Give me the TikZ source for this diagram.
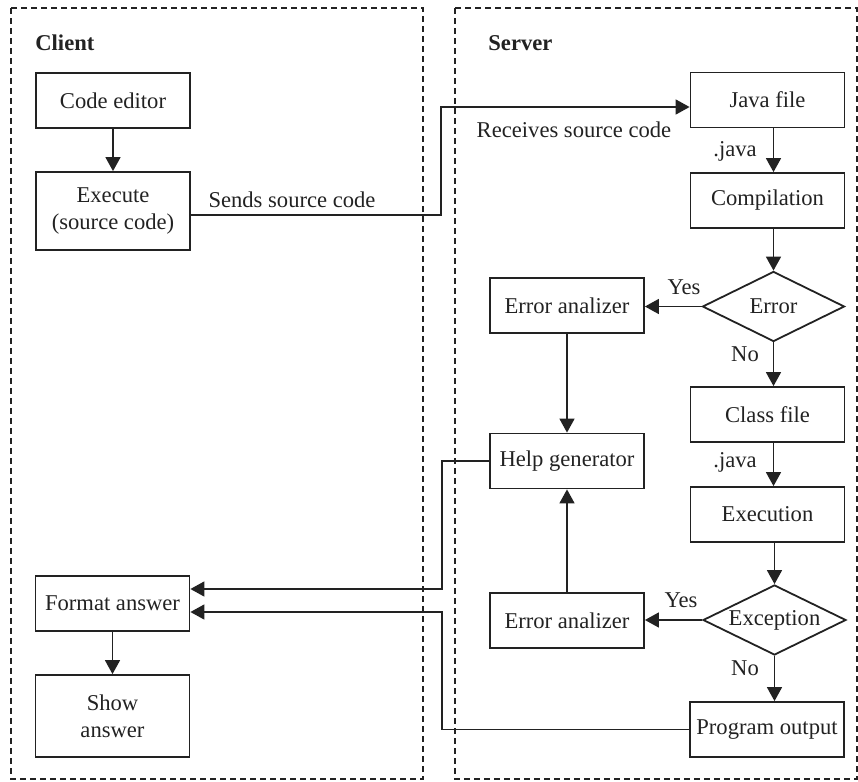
\documentclass[tikz,border=0pt]{standalone}
\usepackage{fontspec}
\setmainfont{Liberation Serif}
\usetikzlibrary{shapes.geometric,arrows.meta,calc}
\definecolor{ink}{HTML}{222222}
\tikzset{
  lane/.style={draw=ink, line width=0.65pt, dash pattern=on 3pt off 2pt},
  box/.style={draw=ink, line width=0.9pt, rectangle, minimum width=77pt, minimum height=27.5pt,
              inner sep=1pt, align=center, font=\fontsize{11.3}{13.6}\selectfont, text=ink},
  tallbox/.style={box, minimum height=40pt},
  decide/.style={draw=ink, line width=0.9pt, diamond, aspect=2, inner sep=0pt,
                 minimum width=71pt, minimum height=35pt, font=\fontsize{11.3}{13.6}\selectfont, text=ink},
  flow/.style={draw=ink, line width=0.8pt, -{Triangle[length=7pt,width=7.5pt]}},
  tag/.style={font=\fontsize{11.3}{13.6}\selectfont, text=ink, inner sep=0pt},
  title/.style={font=\fontsize{11.3}{13.6}\selectfont\bfseries, text=ink, inner sep=0pt, anchor=west}
}
\begin{document}
\begin{tikzpicture}[x=0.5pt, y=-0.5pt]
\useasboundingbox (0,0) rectangle (858,782);

% swim lanes
\draw[lane] (11,8) rectangle (423,779);
\draw[lane] (455,8) rectangle (857,779);
\node[title] (client) at (35,43) {Client};
\node[title] (server) at (488,43) {Server};

% client side
\node[box] (code) at (113,100.5) {Code editor};
\node[tallbox, minimum height=39pt] (exec) at (113,211) {Execute\\(source code)};
\node[box] (fmt) at (112.5,603.5) {Format answer};
\node[tallbox, minimum height=41pt] (show) at (112.5,716) {Show\\answer};

% server side
\node[box] (java) at (767.5,100) {Java file};
\node[box] (comp) at (767.5,200.5) {Compilation};
\node[decide] (err) at (773.5,306.5) {Error};
\node[box] (ea1) at (567,305.5) {Error analizer};
\node[box] (cls) at (767.5,414.5) {Class file};
\node[box] (help) at (567,461) {Help generator};
\node[box] (run) at (767.5,514.5) {Execution};
\node[decide, minimum width=71.5pt] (exc) at (774.5,620) {Exception};
\node[box] (ea2) at (567,620.5) {Error analizer};
\node[box] (prog) at (767,729.5) {Program output};

% client flow
\draw[flow] (code.south) -- (exec.north);
\draw[flow] (fmt.south) -- (show.north);

% source code transfer
\coordinate (s1) at (441,215);
\coordinate (s2) at (441,107);
\draw[flow] (exec.east |- s1) -- (s1) -- (s2) -- (s2 -| java.west);
\node[tag] (sends) at (292,200) {Sends source code};
\node[tag] (recv) at (574,130) {Receives source code};

% server main column
\draw[flow] (java.south -| err.north) -- (comp.north -| err.north);
\node[tag] (j1) at (735,151) {.java};
\draw[flow] (comp.south -| err.north) -- (err.north);
\draw[flow] (err.west) -- (err.west -| ea1.east);
\node[tag] (y1) at (684,287) {Yes};
\draw[flow] (err.south) -- (cls.north -| err.south);
\node[tag] (n1) at (745,354) {No};
\draw[flow] (cls.south -| err.south) -- (run.north -| err.south);
\node[tag] (j2) at (735,462) {.java};
\draw[flow] (run.south -| exc.north) -- (exc.north);
\draw[flow] (exc.west) -- (exc.west -| ea2.east);
\node[tag] (y2) at (681,600) {Yes};
\draw[flow] (exc.south) -- (prog.north -| exc.south);
\node[tag] (n2) at (745,668) {No};

% help generation
\draw[flow] (ea1.south) -- (help.north);
\draw[flow] (ea2.north) -- (help.south);

% answers back to the client
\coordinate (h1) at (442,461);
\coordinate (h2) at (442,589);
\draw[flow] (help.west) -- (h1) -- (h2) -- (h2 -| fmt.east);
\coordinate (p1) at (442,729.5);
\coordinate (p2) at (442,612);
\draw[flow] (prog.west) -- (p1) -- (p2) -- (p2 -| fmt.east);
\end{tikzpicture}
\end{document}
